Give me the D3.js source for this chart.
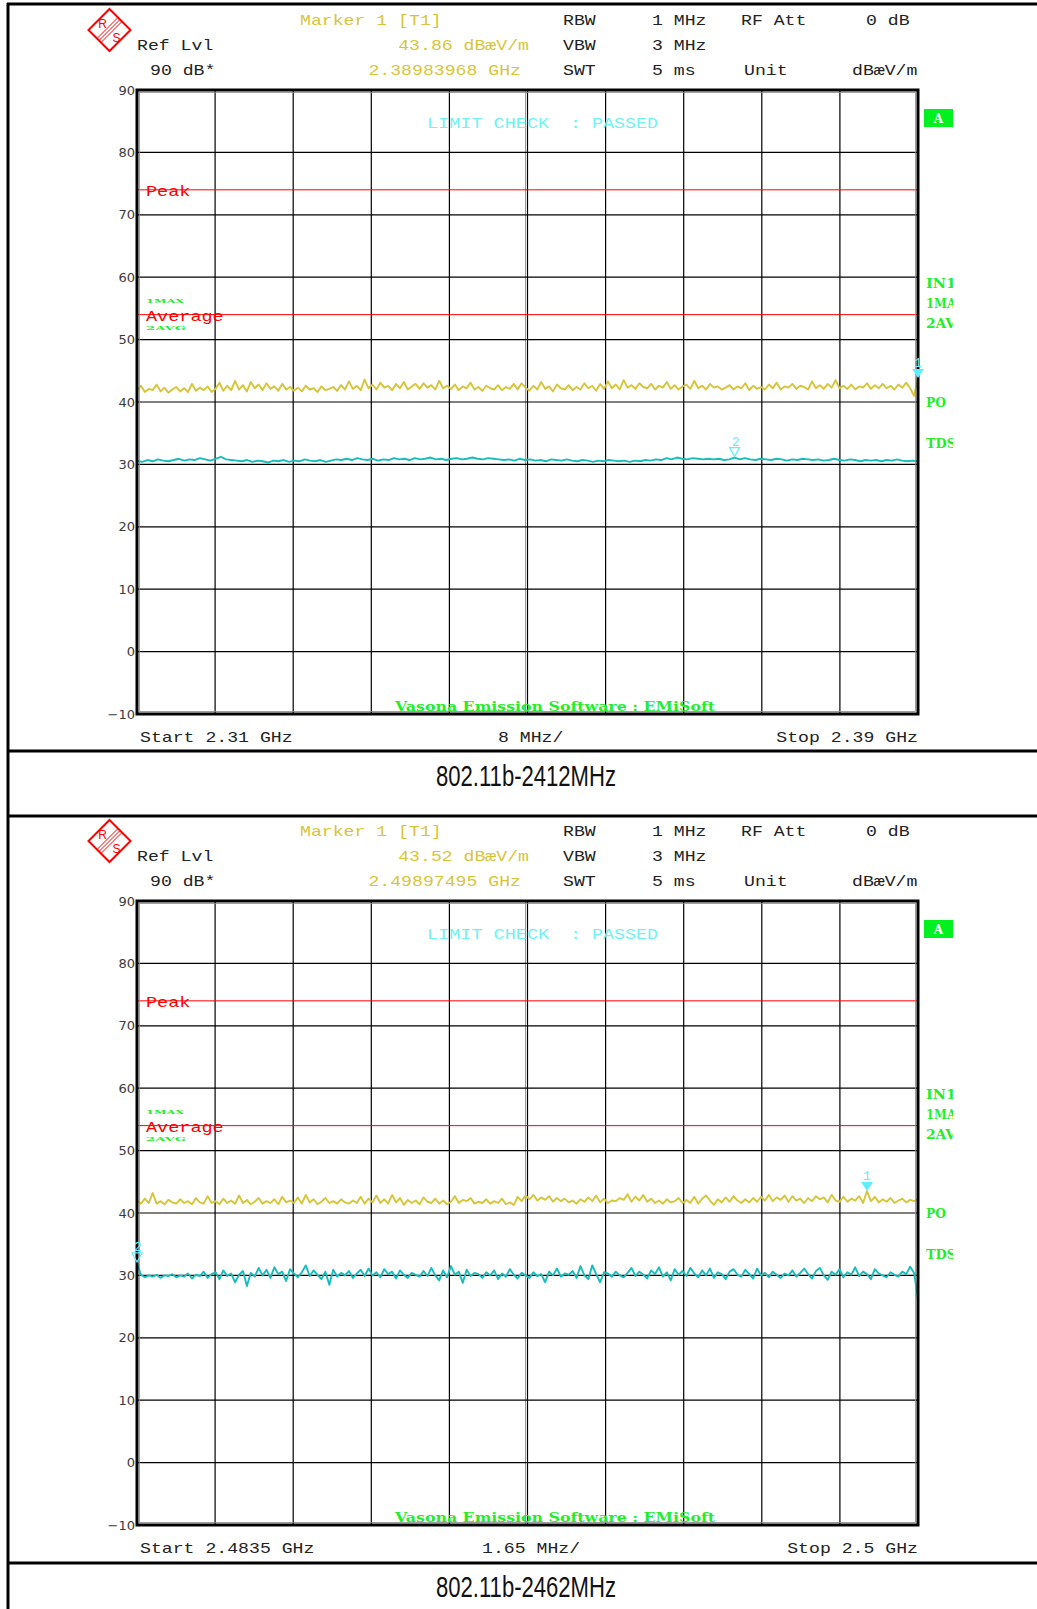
<!DOCTYPE html>
<html><head><meta charset="utf-8">
<script src="https://cdn.jsdelivr.net/npm/d3@7"></script>
<style>body{margin:0;background:#fff}svg{display:block}</style>
</head><body>
<svg id="c" width="1037" height="1609"></svg>
<script>
// ---------- data ----------
const yTicks = [90, 80, 70, 60, 50, 40, 30, 20, 10, 0, -10];
const limitNames = ["Peak", "Average"];
const limitValues = [74, 54];
const captions = ["802.11b-2412MHz", "802.11b-2462MHz"];
const startGHz = [2.31, 2.4835];
const stopGHz = [2.39, 2.5];
const startLabels = ["Start 2.31 GHz", "Start 2.4835 GHz"];
const stopLabels = ["Stop 2.39 GHz", "Stop 2.5 GHz"];
const spanLabels = ["8 MHz/", "1.65 MHz/"];
const markerLevels = ["43.86 dBæV/m", "43.52 dBæV/m"];
const markerFreqs = ["2.38983968 GHz", "2.49897495 GHz"];
const marker1Index = [199, 186];
const marker2Index = [114, 0];

// chart 1 : max-hold (yellow) and average (cyan) traces, dBµV/m
const trace1Max = [
41.8,42.6,41.6,42.1,41.9,42.8,41.7,42.3,41.5,42.0,
42.4,41.7,42.2,41.6,42.9,41.8,42.3,41.9,42.5,41.6,
42.1,43.1,41.8,42.6,41.9,43.4,42.0,42.7,41.7,43.2,
42.2,42.8,41.9,43.0,42.1,42.5,41.8,42.9,42.0,42.4,
41.8,42.3,41.7,42.6,42.0,42.2,41.6,42.5,41.9,42.1,
42.4,41.8,42.7,42.0,43.3,42.1,42.6,41.9,43.6,42.2,
42.8,42.0,43.1,42.3,42.6,41.9,42.9,42.2,43.2,42.0,
42.5,42.9,42.1,43.0,42.3,42.7,42.0,43.4,42.2,42.6,
42.1,42.8,41.9,42.5,42.2,43.1,42.0,42.4,41.8,42.6,
42.2,42.0,42.7,41.9,42.4,42.1,42.9,42.0,43.0,42.3,
41.8,42.6,42.0,43.2,42.1,42.5,41.7,42.8,42.2,42.0,
42.7,41.9,42.4,42.0,43.0,42.2,42.6,41.8,42.9,42.1,
43.3,42.2,42.8,42.0,43.5,42.3,42.7,42.1,43.0,42.4,
42.2,42.9,42.0,42.6,42.3,43.2,42.1,42.7,42.0,42.5,
42.8,42.1,43.4,42.2,42.6,42.0,42.9,42.3,42.5,42.0,
42.3,42.7,42.0,42.5,42.2,43.0,41.9,42.6,42.1,42.4,
42.0,42.8,42.2,43.1,42.0,42.5,42.3,42.9,42.1,42.6,
42.4,42.0,43.3,42.2,42.7,42.1,42.9,42.3,43.5,42.2,
42.6,42.1,42.8,42.0,42.5,42.3,43.0,42.1,42.7,42.2,
42.9,42.2,42.6,42.0,42.8,42.3,43.1,42.2,41.0,43.86];
const trace1Avg = [
30.6,30.4,30.7,30.5,30.8,30.6,30.5,30.7,30.9,30.6,
30.8,30.7,31.0,30.8,30.6,30.9,31.2,30.8,30.7,30.6,
30.5,30.7,30.4,30.6,30.5,30.3,30.6,30.5,30.7,30.4,
30.6,30.5,30.8,30.6,30.5,30.7,30.4,30.6,30.8,30.7,
30.9,30.7,31.0,30.8,30.7,30.9,30.6,30.8,30.7,31.0,
30.8,30.9,30.7,31.0,30.8,30.9,31.1,30.8,30.9,30.7,
30.9,31.0,30.8,30.9,31.1,30.9,30.8,31.0,30.9,30.8,
30.7,30.8,30.6,30.9,30.7,30.8,30.6,30.7,30.5,30.8,
30.7,30.6,30.8,30.6,30.5,30.7,30.6,30.4,30.6,30.5,
30.7,30.6,30.5,30.6,30.4,30.6,30.5,30.7,30.6,30.8,
30.7,31.0,30.8,31.1,30.9,30.8,31.0,30.9,30.8,30.9,
30.8,30.9,30.7,30.8,31.1,30.8,31.0,30.8,30.7,30.9,
30.8,30.7,30.9,30.8,30.6,30.8,30.7,30.9,30.8,30.7,
30.8,30.6,30.7,30.9,30.7,30.6,30.8,30.7,30.5,30.7,
30.6,30.7,30.5,30.7,30.6,30.8,30.6,30.5,30.6,30.5];

// chart 2
const trace2Max = [
42.0,41.5,42.3,41.6,43.2,41.5,41.9,41.4,42.1,41.7,
41.5,42.2,41.6,41.9,41.4,42.4,41.7,41.5,42.7,41.6,
41.9,41.4,42.3,41.6,42.0,41.5,42.8,41.6,42.1,41.4,
41.8,42.4,41.5,41.9,41.6,42.2,41.4,42.6,41.7,42.0,
41.6,42.5,41.5,42.9,41.7,42.2,41.4,41.8,42.4,41.6,
41.9,41.5,42.2,41.7,41.5,42.0,41.6,42.6,41.5,42.3,
41.7,42.8,41.6,42.2,41.5,42.9,41.7,42.4,41.3,42.1,
41.6,42.0,41.4,42.5,41.8,41.6,42.3,41.5,42.0,41.4,
41.8,42.7,41.6,42.1,41.9,42.4,41.5,41.8,41.6,42.2,
41.5,41.9,41.6,42.3,41.4,41.7,41.3,42.6,41.9,42.8,
42.2,42.9,42.0,42.5,42.1,42.7,41.8,42.4,41.9,42.3,
41.7,42.0,41.5,42.2,41.8,42.5,41.9,42.8,41.7,42.3,
41.6,42.0,41.9,42.4,42.1,43.0,41.8,42.6,42.0,42.9,
41.8,42.3,41.6,42.0,41.5,42.2,41.7,41.9,42.4,41.6,
42.1,41.6,42.6,41.5,42.3,42.8,42.0,41.3,42.2,41.7,
42.5,41.8,42.7,42.0,41.6,42.2,41.7,42.4,41.8,42.6,
42.0,42.9,41.9,42.5,42.1,42.8,41.8,42.7,42.0,42.3,
41.6,42.4,41.9,42.7,42.2,42.5,41.7,42.9,42.0,41.8,
42.6,41.8,42.3,42.0,42.7,41.6,43.52,41.9,42.6,41.7,
42.2,41.8,42.4,41.6,42.0,42.3,41.7,42.1,41.9,42.2];
const trace2Avg = [
32.0,30.1,29.7,30.0,29.8,30.1,29.6,30.0,29.9,30.2,
29.7,30.0,29.8,30.3,29.5,30.1,29.9,30.6,29.6,30.2,
30.5,29.4,30.8,29.9,30.3,28.9,30.1,30.7,28.3,30.4,
29.8,31.2,30.0,30.9,29.6,31.3,30.2,30.6,29.1,31.0,
30.3,29.7,30.5,31.6,29.9,30.8,30.1,29.4,30.6,28.5,
30.9,29.8,30.4,30.0,30.7,29.6,30.3,30.9,29.9,31.1,
30.0,30.5,29.7,31.0,30.2,30.6,29.5,30.8,30.1,29.6,
30.4,30.1,29.8,30.7,29.9,31.2,30.0,29.2,30.8,29.7,
31.5,30.1,30.6,28.8,30.9,29.9,30.4,30.2,29.6,30.5,
30.0,30.8,29.4,30.3,29.8,31.0,30.1,29.5,30.4,30.0,
29.6,30.5,29.9,30.2,28.9,30.6,30.0,31.1,29.8,30.3,
30.1,30.7,29.6,31.5,30.0,29.4,31.6,30.2,28.9,30.5,
30.3,29.8,30.6,30.0,29.7,30.4,31.2,29.9,30.6,30.1,
29.5,30.8,30.2,31.3,29.8,30.5,29.2,31.0,30.1,30.7,
29.9,31.2,30.3,29.7,30.8,30.0,31.1,29.6,30.5,30.2,
29.4,30.6,31.0,30.1,29.8,30.9,30.2,29.5,31.1,30.0,
30.4,29.7,30.6,30.1,29.6,30.3,30.0,30.8,29.8,30.4,
31.1,30.2,29.5,30.7,31.2,30.0,29.3,30.6,30.1,31.0,
29.7,30.5,30.1,31.3,29.9,30.6,30.2,29.4,31.0,30.3,
30.0,29.7,30.5,30.1,29.8,30.6,30.2,31.4,30.4,26.2];

const maxTraces = [trace1Max, trace2Max];
const avgTraces = [trace1Avg, trace2Avg];

// ---------- drawing ----------
const svg = d3.select("#c");
const W = 1037;
const PL = 137, PR = 918, PT = 90, PB = 714;
const MONO = "'Liberation Mono','DejaVu Sans Mono',monospace";
const CW = 10.9;
const YEL = "#d8c438", CYAN = "#17bdbd", MCYAN = "#5eeeff", GREEN = "#1fee2a", RED = "#ff0000";

function mono(g, x, y, str, color, anchor, cw, size) {
  return g.append("text").attr("x", x).attr("y", y)
    .attr("font-family", MONO).attr("font-size", size || 15)
    .attr("fill", color).attr("text-anchor", anchor || "start")
    .attr("textLength", str.length * (cw || CW)).attr("lengthAdjust", "spacingAndGlyphs")
    .text(str);
}

// outer frame lines
svg.append("line").attr("x1", 8).attr("x2", 8).attr("y1", 3).attr("y2", 1609).attr("stroke", "#000").attr("stroke-width", 3);
[4, 751, 816, 1563].forEach(yy => {
  svg.append("line").attr("x1", 7).attr("x2", W).attr("y1", yy).attr("y2", yy).attr("stroke", "#000").attr("stroke-width", 3);
});

const defs = svg.append("defs");
defs.append("clipPath").attr("id", "plotclip").append("rect")
  .attr("x", PL).attr("y", PT - 40).attr("width", PR - PL + 2).attr("height", PB - PT + 40);
defs.append("clipPath").attr("id", "rightclip").append("rect")
  .attr("x", 900).attr("y", 0).attr("width", 53).attr("height", 800);
defs.append("clipPath").attr("id", "unitclip").append("rect")
  .attr("x", 0).attr("y", 0).attr("width", 918).attr("height", 800);

function drawPanel(k, offY) {
  const g = svg.append("g").attr("transform", `translate(0,${offY})`);
  const x = d3.scaleLinear().domain([startGHz[k], stopGHz[k]]).range([PL, PR]);
  const y = d3.scaleLinear().domain([-10, 90]).range([PB, PT]);
  const fMax = i => startGHz[k] + i * (stopGHz[k] - startGHz[k]) / (maxTraces[k].length - 1);
  const fAvg = i => startGHz[k] + i * (stopGHz[k] - startGHz[k]) / (avgTraces[k].length - 1);

  // logo
  const lg = g.append("g").attr("transform", "translate(109.5,30)");
  lg.append("path").attr("d", "M0,-21L21,0L0,21L-21,0Z").attr("fill", "none").attr("stroke", RED).attr("stroke-width", 2);
  [-2, 0, 2].forEach(d => {
    lg.append("line").attr("x1", -10.5 + d).attr("y1", 10.5 + d).attr("x2", 10.5 + d).attr("y2", -10.5 + d)
      .attr("stroke", RED).attr("stroke-width", 1);
  });
  lg.append("text").attr("x", -7).attr("y", -2).attr("font-family", "'Liberation Sans',sans-serif").attr("font-size", 12).attr("fill", RED).attr("text-anchor", "middle").text("R");
  lg.append("text").attr("x", 7).attr("y", 12).attr("font-family", "'Liberation Sans',sans-serif").attr("font-size", 12).attr("fill", RED).attr("text-anchor", "middle").text("S");

  // header
  const dark = "#222";
  mono(g, 137, 50, "Ref Lvl", dark);
  mono(g, 150, 75, "90 dB*", dark);
  mono(g, 300, 25, "Marker 1 [T1]", YEL);
  mono(g, 529, 50, markerLevels[k], YEL, "end");
  mono(g, 521, 75, markerFreqs[k], YEL, "end");
  mono(g, 563, 25, "RBW", dark);
  mono(g, 563, 50, "VBW", dark);
  mono(g, 563, 75, "SWT", dark);
  mono(g, 652, 25, "1 MHz", dark);
  mono(g, 652, 50, "3 MHz", dark);
  mono(g, 652, 75, "5 ms", dark);
  mono(g, 741, 25, "RF Att", dark);
  mono(g, 744, 75, "Unit", dark);
  mono(g, 866, 25, "0 dB", dark);
  mono(g.append("g").attr("clip-path", "url(#unitclip)"), 852, 75, "dBæV/m", dark);

  // grid
  const xTicks = d3.range(11).map(i => startGHz[k] + i * (stopGHz[k] - startGHz[k]) / 10);
  g.selectAll(".vg").data(xTicks).enter().append("line")
    .attr("x1", d => x(d)).attr("x2", d => x(d)).attr("y1", PT).attr("y2", PB)
    .attr("stroke", "#000").attr("stroke-width", 1.2);
  g.append("line").attr("x1", x(xTicks[5]) - 2).attr("x2", x(xTicks[5]) - 2).attr("y1", PT).attr("y2", PB)
    .attr("stroke", "#999").attr("stroke-width", 1);
  g.selectAll(".hg").data(yTicks).enter().append("line")
    .attr("x1", PL).attr("x2", PR).attr("y1", d => y(d)).attr("y2", d => y(d))
    .attr("stroke", "#000").attr("stroke-width", 1.2);

  // y axis labels
  g.selectAll(".yl").data(yTicks).enter().append("text")
    .attr("x", 135).attr("y", d => y(d)).attr("dy", "0.36em")
    .attr("text-anchor", "end").attr("font-family", "'DejaVu Sans',sans-serif").attr("font-size", 13)
    .attr("fill", "#3a3a3a").text(d => d < 0 ? "\u2212" + Math.abs(d) : d);

  // LIMIT CHECK
  const LC = "#6ef2f2";
  mono(g, 427, 128, "LIMIT CHECK", LC, "start", 11.1);
  mono(g, 570, 128, ":", LC, "start", 11.1);
  mono(g, 592, 128, "PASSED", LC, "start", 11.0);

  // small squashed green labels near Average
  g.append("text").attr("transform", `translate(146,${y(54) - 12}) scale(1,0.45)`)
    .attr("font-family", "'DejaVu Serif',serif").attr("font-weight", "bold").attr("font-size", 14)
    .attr("fill", GREEN).attr("textLength", 38).attr("lengthAdjust", "spacingAndGlyphs").text("1MAX");
  g.append("text").attr("transform", `translate(146,${y(54) + 15}) scale(1,0.45)`)
    .attr("font-family", "'DejaVu Serif',serif").attr("font-weight", "bold").attr("font-size", 14)
    .attr("fill", GREEN).attr("textLength", 40).attr("lengthAdjust", "spacingAndGlyphs").text("2AVG");

  // limit lines
  limitValues.forEach((v, i) => {
    g.append("line").attr("x1", PL).attr("x2", PR).attr("y1", y(v)).attr("y2", y(v))
      .attr("stroke", RED).attr("stroke-width", 1);
    mono(g, 146, y(v) + 6, limitNames[i], RED, "start", 11.1, 15);
  });

  // traces
  const tg = g.append("g").attr("clip-path", "url(#plotclip)");
  tg.append("path").attr("d", d3.line().x((d, i) => x(fAvg(i))).y(d => y(d))(avgTraces[k]))
    .attr("fill", "none").attr("stroke", CYAN).attr("stroke-width", 1.9).attr("stroke-linejoin", "round");
  tg.append("path").attr("d", d3.line().x((d, i) => x(fMax(i))).y(d => y(d))(maxTraces[k]))
    .attr("fill", "none").attr("stroke", YEL).attr("stroke-width", 1.9).attr("stroke-linejoin", "round");

  // frame
  g.append("rect").attr("x", PL).attr("y", PT).attr("width", PR - PL).attr("height", PB - PT)
    .attr("fill", "none").attr("stroke", "#000").attr("stroke-width", 3);
  g.append("rect").attr("x", PL + 2.5).attr("y", PT + 2.5).attr("width", PR - PL - 5).attr("height", PB - PT - 5)
    .attr("fill", "none").attr("stroke", "#888").attr("stroke-width", 0.8);

  // markers
  const m1 = marker1Index[k], m2 = marker2Index[k];
  const mx1 = x(fMax(m1)), my1 = y(maxTraces[k][m1]);
  g.append("path").attr("d", `M${mx1 - 6},${my1 - 9}L${mx1 + 6},${my1 - 9}L${mx1},${my1}Z`).attr("fill", MCYAN);
  g.append("text").attr("x", mx1).attr("y", my1 - 11).attr("text-anchor", "middle")
    .attr("font-family", MONO).attr("font-size", 13).attr("fill", MCYAN).text("1");
  const mx2 = x(fAvg(m2)), my2 = y(avgTraces[k][m2]) - 1;
  g.append("path").attr("d", `M${mx2 - 5},${my2 - 9}L${mx2 + 5},${my2 - 9}L${mx2},${my2}Z`)
    .attr("fill", "none").attr("stroke", MCYAN).attr("stroke-width", 1.2);
  g.append("text").attr("x", mx2 + 1).attr("y", my2 - 11).attr("text-anchor", "middle")
    .attr("font-family", MONO).attr("font-size", 13).attr("fill", MCYAN).text("2");

  // right side labels
  g.append("rect").attr("x", 924).attr("y", 109).attr("width", 29).attr("height", 18).attr("fill", "#00f020");
  g.append("text").attr("x", 938.5).attr("y", 123).attr("text-anchor", "middle")
    .attr("font-family", "'DejaVu Serif',serif").attr("font-weight", "bold").attr("font-size", 12).attr("fill", "#fff").text("A");
  const rg = g.append("g").attr("clip-path", "url(#rightclip)");
  [["IN1", 283], ["1MA", 303], ["2AV", 323], ["PO", 402], ["TDS", 443]].forEach(([t, yy]) => {
    rg.append("text").attr("x", 926).attr("y", yy + 5)
      .attr("font-family", "'DejaVu Serif',serif").attr("font-weight", "bold").attr("font-size", 13)
      .attr("fill", GREEN).attr("textLength", t.length * 10).attr("lengthAdjust", "spacingAndGlyphs").text(t);
  });

  // Vasona footer
  g.append("text").attr("x", 395).attr("y", 711)
    .attr("font-family", "'DejaVu Serif',serif").attr("font-weight", "bold").attr("font-size", 13)
    .attr("fill", GREEN).attr("textLength", 320).attr("lengthAdjust", "spacingAndGlyphs")
    .text("Vasona Emission Software : EMiSoft");

  // bottom axis labels
  mono(g, 140, 742, startLabels[k], dark);
  mono(g, k === 0 ? 498 : 482, 742, spanLabels[k], dark);
  mono(g, 918, 742, stopLabels[k], dark, "end");

  // caption
  g.append("text").attr("x", 526).attr("y", 786).attr("text-anchor", "middle")
    .attr("font-family", "'Liberation Sans Narrow','Liberation Sans',sans-serif").attr("font-stretch", "condensed")
    .attr("font-size", 29).attr("fill", "#111")
    .attr("textLength", 180).attr("lengthAdjust", "spacingAndGlyphs").text(captions[k]);
}

drawPanel(0, 0);
drawPanel(1, 811);
</script>
</body></html>
